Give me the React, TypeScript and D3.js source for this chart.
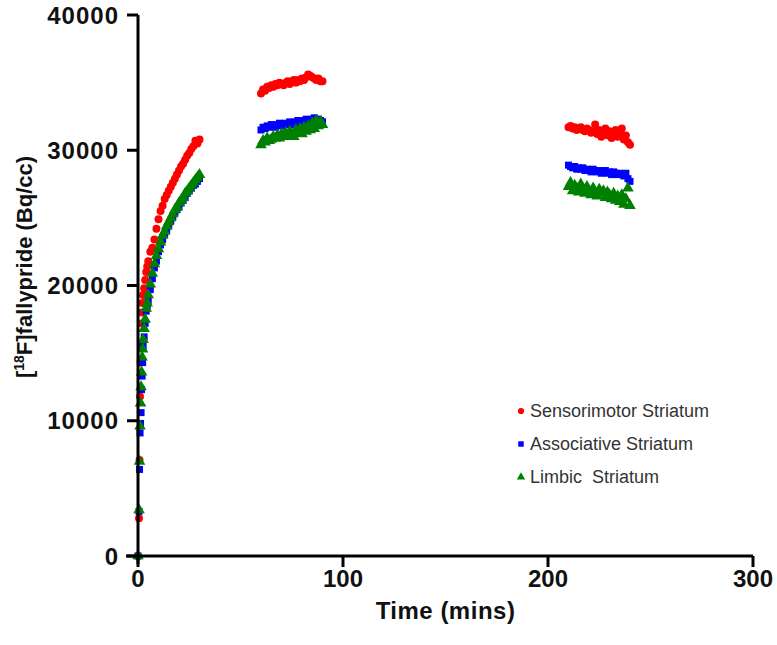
import React from "react";
import * as d3 from "d3";

const earlyTimes = [0, 0.5, 0.75, 1, 1.25, 1.5, 1.75, 2, 2.25, 2.5, 3, 3.5, 4, 4.5, 5, 6, 7, 8, 9, 10, 11, 12, 13, 14, 15, 16, 17, 18, 19, 20, 21, 22, 23, 24, 25, 26, 27, 28, 29, 30];
const midTimes = [60, 61, 62, 63, 64, 65, 66, 67, 68, 69, 70, 71, 72, 73, 74, 75, 76, 77, 78, 79, 80, 81, 82, 83, 84, 85, 86, 87, 88, 89, 90];
const lateTimes = [210, 211, 212, 213, 214, 215, 216, 217, 218, 219, 220, 221, 222, 223, 224, 225, 226, 227, 228, 229, 230, 231, 232, 233, 234, 235, 236, 237, 238, 239, 240];

const sensorimotorEarly = [0, 2800, 7100, 11800, 14300, 15500, 17200, 18000, 18700, 19300, 19800, 20400, 21000, 21400, 21800, 22500, 22800, 23400, 24200, 24900, 25500, 25900, 26400, 26700, 27000, 27300, 27600, 27900, 28200, 28500, 28800, 29000, 29300, 29600, 29800, 30100, 30300, 30700, 30500, 30800];
const sensorimotorMid = [34200, 34500, 34400, 34700, 34600, 34800, 34700, 34900, 34800, 35000, 34900, 34800, 35000, 35100, 34900, 35100, 35200, 35000, 35200, 35100, 35300, 35200, 35400, 35600, 35500, 35400, 35300, 35200, 35300, 35100, 35100];
const sensorimotorLate = [31700, 31800, 31600, 31700, 31500, 31600, 31700, 31500, 31400, 31600, 31500, 31300, 31400, 31900, 31200, 31500, 31000, 31300, 31600, 31100, 31400, 30900, 31200, 31500, 31000, 31300, 31600, 30800, 31100, 30600, 30400];

const associativeEarly = [0, 3300, 6400, 9100, 9800, 10600, 12300, 13300, 14300, 15500, 16200, 17200, 18100, 18500, 18900, 19700, 20500, 21300, 21800, 22500, 23000, 23400, 23800, 24100, 24400, 24800, 25100, 25400, 25600, 25800, 26100, 26300, 26500, 26800, 27000, 27200, 27400, 27500, 27700, 27900];
const associativeMid = [31500, 31700, 31600, 31800, 31700, 31900, 31800, 31700, 31900, 32000, 31800, 31900, 32000, 31900, 32100, 32000, 31900, 32100, 32200, 32000, 32100, 32200, 32300, 32100, 32200, 32300, 32400, 32200, 32300, 32200, 32100];
const associativeLate = [28900, 28800, 28700, 28800, 28600, 28700, 28600, 28700, 28500, 28600, 28500, 28400, 28600, 28500, 28400, 28500, 28300, 28400, 28500, 28300, 28400, 28200, 28400, 28300, 28200, 28300, 28200, 28100, 28300, 27900, 27700];

const limbicEarly = [0, 3400, 7000, 9600, 11300, 12500, 13600, 14700, 15300, 16000, 16800, 17500, 18300, 18700, 19300, 20100, 20900, 21600, 22200, 22700, 23200, 23700, 24000, 24400, 24700, 25000, 25300, 25600, 25800, 26100, 26300, 26500, 26800, 27000, 27200, 27400, 27600, 27800, 28000, 28200];
const limbicMid = [30400, 30700, 30600, 30900, 30700, 30800, 31000, 30900, 31100, 30900, 31200, 31000, 31300, 31100, 31400, 31200, 31000, 31500, 31300, 31600, 31200, 31700, 31400, 31800, 31500, 32000, 31600, 32200, 31800, 32100, 31900];
const limbicLate = [27300, 27600, 27000, 27400, 27200, 26900, 27500, 27100, 26800, 27300, 27000, 26700, 27200, 26900, 26600, 27100, 26800, 27000, 26500, 26900, 26700, 26400, 26800, 26300, 26600, 26200, 26700, 26000, 26400, 27200, 25900];

const seriesNames = ["Sensorimotor Striatum", "Associative Striatum", "Limbic  Striatum"];
const seriesColors = ["#ff0000", "#0000ff", "#008000"];
const seriesShapes = ["circle", "square", "triangle"];
const xTicks = [0, 100, 200, 300];
const yTicks = [0, 10000, 20000, 30000, 40000];

const W = 777;
const H = 645;
const x = d3.scaleLinear().domain([0, 300]).range([138, 753]);
const y = d3.scaleLinear().domain([0, 40000]).range([556, 15]);

const symbolFor = (shape: string) =>
  shape === "circle" ? d3.symbolCircle : shape === "square" ? d3.symbolSquare : d3.symbolTriangle;
const sizeFor = (shape: string) => (shape === "circle" ? 50 : shape === "square" ? 49 : 58);

function buildSeries(early: number[], mid: number[], late: number[]) {
  const pts: [number, number][] = [];
  earlyTimes.forEach((t, i) => pts.push([t, early[i]]));
  midTimes.forEach((t, i) => pts.push([t, mid[i]]));
  lateTimes.forEach((t, i) => pts.push([t, late[i]]));
  return pts;
}

const allSeries = [
  buildSeries(sensorimotorEarly, sensorimotorMid, sensorimotorLate),
  buildSeries(associativeEarly, associativeMid, associativeLate),
  buildSeries(limbicEarly, limbicMid, limbicLate),
];

export default function App() {
  const font = "'Liberation Sans', Arial, sans-serif";
  return (
    <svg width={W} height={H} style={{ position: "absolute", left: 0, top: 0, background: "#fff" }}>
      {allSeries.map((pts, si) => {
        const path = d3.symbol().type(symbolFor(seriesShapes[si])).size(sizeFor(seriesShapes[si]))();
        return (
          <g key={si} fill={seriesColors[si]}>
            {pts.map((p, i) => (
              <path key={i} d={path || ""} transform={`translate(${x(p[0])},${y(p[1])})`} />
            ))}
          </g>
        );
      })}
      <g stroke="#000" strokeWidth={3} fill="none">
        <line x1={x(0)} x2={x(0)} y1={y(40000)} y2={y(0) + 8} />
        <line x1={x(0) - 12} x2={x(300)} y1={y(0)} y2={y(0)} />
        {yTicks.map((t) => (
          <line key={t} x1={x(0) - 11} x2={x(0)} y1={y(t)} y2={y(t)} />
        ))}
        {xTicks.map((t) => (
          <line key={t} x1={x(t)} x2={x(t)} y1={y(0)} y2={y(0) + 11} />
        ))}
      </g>
      <g fontFamily={font} fontWeight="bold" fontSize={24} fill="#111">
        {yTicks.map((t) => (
          <text key={t} x={x(0) - 19} y={y(t)} dy="0.36em" textAnchor="end" letterSpacing={1}>
            {t}
          </text>
        ))}
        {xTicks.map((t) => (
          <text key={t} x={x(t)} y={y(0) + 31} textAnchor="middle">
            {t}
          </text>
        ))}
        <text x={(x(0) + x(300)) / 2} y={619} textAnchor="middle" fontSize={24} letterSpacing={0.5}>
          Time (mins)
        </text>
        <text transform={`translate(32,267) rotate(-90)`} textAnchor="middle" fontSize={22}>
          [<tspan dy={-8} fontSize={14}>18</tspan>
          <tspan dy={8}>F]fallypride (Bq/cc)</tspan>
        </text>
      </g>
      <g fontFamily={font} fontSize={18} fill="#333">
        {seriesNames.map((name, i) => {
          const path = d3.symbol().type(symbolFor(seriesShapes[i])).size(30)();
          const yy = 411 + i * 33;
          return (
            <g key={name}>
              <path d={path || ""} fill={seriesColors[i]} transform={`translate(521,${yy})`} />
              <text x={530} y={yy} dy="0.35em" style={{ whiteSpace: "pre" }}>
                {name}
              </text>
            </g>
          );
        })}
      </g>
    </svg>
  );
}
